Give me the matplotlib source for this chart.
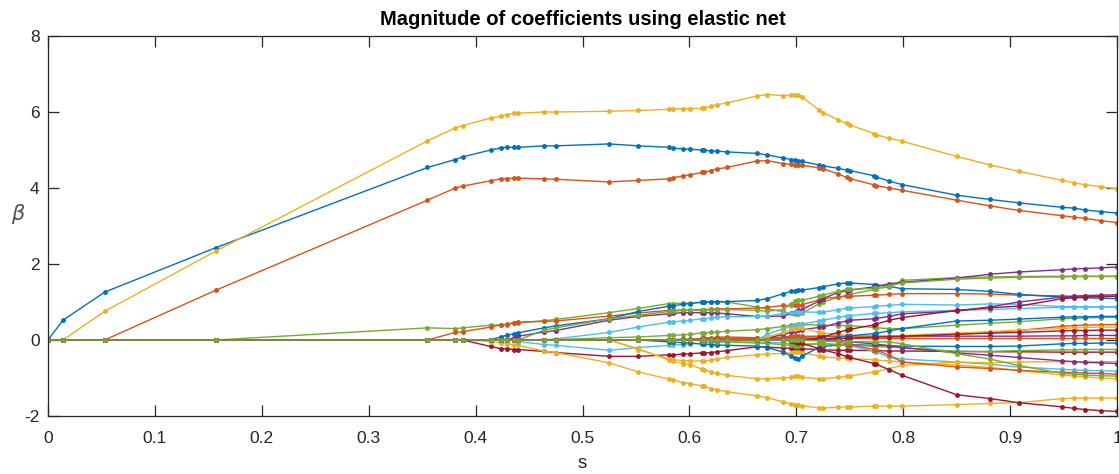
import matplotlib
matplotlib.use("Agg")
import matplotlib.pyplot as plt
import numpy as np

plt.rcParams['font.family'] = ['Liberation Sans', 'DejaVu Sans']

# knot positions along s
s_knots = [0, 0.014, 0.053, 0.157, 0.355, 0.381, 0.388, 0.414, 0.424, 0.429,
           0.436, 0.440, 0.464, 0.475, 0.525, 0.552, 0.581, 0.585, 0.594, 0.601,
           0.612, 0.614, 0.620, 0.626, 0.635, 0.663, 0.673, 0.688, 0.695, 0.699,
           0.702, 0.705, 0.721, 0.725, 0.739, 0.747, 0.750, 0.773, 0.775, 0.787,
           0.799, 0.850, 0.881, 0.908, 0.949, 0.960, 0.970, 0.985, 1.0]

Z4 = [0, 0, 0, 0]

beta_blue_big = [0, 0.52, 1.26, 2.43, 4.54, 4.75, 4.82, 5.00, 5.06, 5.07, 5.07, 5.07, 5.11, 5.11,
                 5.16, 5.11, 5.07, 5.05, 5.03, 5.02, 5.00, 4.99, 4.98, 4.97, 4.95,
                 4.91, 4.87, 4.79, 4.75, 4.74, 4.71, 4.70, 4.61, 4.58, 4.52, 4.47, 4.46,
                 4.32, 4.29, 4.18, 4.09, 3.81, 3.70, 3.61, 3.49, 3.47, 3.42, 3.38, 3.34]
beta_orange_big = [0, 0, 0, 1.31, 3.68, 4.00, 4.05, 4.19, 4.24, 4.25, 4.26, 4.26, 4.24, 4.23,
                   4.16, 4.20, 4.24, 4.27, 4.32, 4.35, 4.41, 4.42, 4.46, 4.50, 4.54,
                   4.71, 4.72, 4.64, 4.63, 4.61, 4.60, 4.60, 4.53, 4.51, 4.37, 4.28, 4.25,
                   4.08, 4.06, 4.00, 3.94, 3.68, 3.53, 3.41, 3.27, 3.23, 3.20, 3.14, 3.09]
beta_yellow_big = [0, 0, 0.755, 2.34, 5.24, 5.58, 5.64, 5.84, 5.89, 5.93, 5.97, 5.97, 6.00, 6.00,
                   6.02, 6.04, 6.07, 6.08, 6.09, 6.09, 6.10, 6.11, 6.15, 6.19, 6.24,
                   6.42, 6.46, 6.43, 6.45, 6.45, 6.44, 6.40, 6.06, 5.98, 5.80, 5.70, 5.66,
                   5.43, 5.40, 5.31, 5.23, 4.83, 4.61, 4.44, 4.20, 4.13, 4.09, 4.03, 3.98]

beta_purple_top = Z4 + [0, 0, 0, 0, 0, 0, 0.06, 0.10, 0.21, 0.25,
                        0.52, 0.62, 0.69, 0.70, 0.72, 0.72, 0.72, 0.72, 0.72, 0.71, 0.69,
                        0.62, 0.62, 0.63, 0.70, 0.75, 0.78, 0.80, 1.02, 1.09, 1.25, 1.30, 1.31,
                        1.40, 1.41, 1.48, 1.52, 1.63, 1.73, 1.79, 1.85, 1.87, 1.88, 1.90, 1.92]
beta_green_a = Z4 + [0.32, 0.30, 0.32, 0.39, 0.40, 0.40, 0.45, 0.45, 0.51, 0.54,
                     0.72, 0.83, 0.96, 0.96, 0.97, 0.97, 0.99, 0.99, 1.00, 1.00, 1.00,
                     0.87, 0.82, 0.74, 0.70, 0.68, 0.68, 0.70, 0.95, 1.00, 1.12, 1.18, 1.20,
                     1.33, 1.35, 1.40, 1.57, 1.64, 1.66, 1.67, 1.68, 1.68, 1.68, 1.68, 1.68]
beta_green_e = Z4 + [0, 0, 0, 0, 0, 0, 0, 0, 0.26, 0.32,
                     0.56, 0.65, 0.75, 0.76, 0.78, 0.78, 0.78, 0.79, 0.79, 0.79, 0.80,
                     0.78, 0.76, 0.80, 0.95, 1.02, 1.04, 1.04, 1.15, 1.18, 1.28, 1.33, 1.33,
                     1.36, 1.37, 1.42, 1.50, 1.60, 1.63, 1.65, 1.66, 1.67, 1.67, 1.67, 1.67]
beta_orange_b = Z4 + [0, 0.20, 0.22, 0.34, 0.40, 0.41, 0.46, 0.47, 0.49, 0.50,
                      0.63, 0.71, 0.78, 0.78, 0.79, 0.79, 0.80, 0.80, 0.81, 0.82, 0.82,
                      0.84, 0.86, 0.91, 0.91, 0.91, 0.92, 0.93, 1.05, 1.09, 1.13, 1.15, 1.15,
                      1.18, 1.18, 1.20, 1.22, 1.22, 1.21, 1.18, 1.16, 1.15, 1.15, 1.15, 1.15]
beta_blue_c = Z4 + [0, 0, 0, 0, 0.09, 0.12, 0.17, 0.19, 0.32, 0.37,
                    0.56, 0.75, 0.89, 0.90, 0.94, 0.96, 1.00, 1.00, 1.00, 1.01, 1.01,
                    1.04, 1.09, 1.22, 1.28, 1.30, 1.31, 1.31, 1.38, 1.40, 1.48, 1.50, 1.50,
                    1.46, 1.45, 1.41, 1.35, 1.33, 1.28, 1.20, 1.13, 1.12, 1.11, 1.10, 1.09]
beta_cyan_up = Z4 + [0, 0, 0, 0, 0, 0, 0, 0, 0, 0.03,
                     0.20, 0.34, 0.47, 0.48, 0.50, 0.52, 0.56, 0.56, 0.58, 0.60, 0.61,
                     0.62, 0.63, 0.70, 0.72, 0.74, 0.74, 0.74, 0.73, 0.73, 0.80, 0.83, 0.84,
                     0.88, 0.89, 0.91, 0.94, 0.92, 0.95, 0.94, 0.88, 0.88, 0.87, 0.87, 0.87]
beta_cyan_2 = Z4 + [0, 0, 0, 0, 0, 0, 0, 0, 0, 0,
                    0, 0, 0, 0, 0, 0, 0, 0, 0, 0, 0,
                    0, 0.15, 0.30, 0.35, 0.38, 0.40, 0.42, 0.50, 0.52, 0.60, 0.63, 0.64,
                    0.70, 0.70, 0.72, 0.74, 0.78, 0.80, 0.83, 0.86, 0.86, 0.87, 0.87, 0.87]
beta_purple_mid = Z4 + [0, 0, 0, 0, 0, 0, 0, 0, 0, 0,
                        0, 0, 0, 0, 0, 0, 0, 0, 0, 0, 0,
                        0, 0.05, 0.15, 0.20, 0.24, 0.26, 0.27, 0.33, 0.34, 0.45, 0.50, 0.52,
                        0.56, 0.57, 0.62, 0.69, 0.76, 0.87, 1.00, 1.13, 1.15, 1.17, 1.18, 1.19]
beta_red_up = Z4 + [0, 0, 0, 0, 0, 0, 0, 0, 0, 0,
                    0, 0, 0, 0, 0, 0, 0, 0, 0, 0, 0,
                    0, 0, 0, 0, 0, 0, 0, 0.05, 0.08, 0.20, 0.26, 0.28,
                    0.40, 0.42, 0.52, 0.59, 0.78, 0.85, 0.89, 1.09, 1.11, 1.13, 1.14, 1.15]
beta_blue_mid = Z4 + [0, 0, 0, 0, 0, 0, 0, 0, 0, 0,
                      0, 0, 0, 0, 0, 0, 0, 0, 0, 0, 0,
                      0, 0, 0, 0, 0, 0, 0, 0, 0.02, 0.07, 0.10, 0.11,
                      0.17, 0.18, 0.24, 0.30, 0.50, 0.52, 0.55, 0.60, 0.61, 0.61, 0.62, 0.62]
beta_green_mid = Z4 + [0, 0, 0, 0, 0, 0, 0, 0, 0, 0.01,
                       0.06, 0.08, 0.12, 0.12, 0.14, 0.15, 0.19, 0.19, 0.20, 0.21, 0.23,
                       0.27, 0.30, 0.36, 0.39, 0.40, 0.41, 0.41, 0.39, 0.39, 0.38, 0.38, 0.38,
                       0.33, 0.32, 0.30, 0.30, 0.39, 0.44, 0.48, 0.56, 0.57, 0.58, 0.59, 0.60]
beta_orange_mid = Z4 + [0, 0, 0, 0, 0, 0, 0, 0, 0, 0,
                        0, 0, 0, 0, 0, 0, 0.04, 0.05, 0.06, 0.07, 0.08,
                        0.06, 0.05, 0.08, 0.10, 0.10, 0.10, 0.10, 0.10, 0.10, 0.10, 0.10, 0.10,
                        0.09, 0.09, 0.08, 0.08, 0.15, 0.20, 0.25, 0.36, 0.38, 0.39, 0.40, 0.41]
beta_yellow_up = Z4 + [0, 0, 0, 0, 0, 0, 0, 0, 0, 0,
                       0, 0, 0, 0, 0, 0, 0, 0, 0, 0, 0,
                       0, 0.08, 0.20, 0.28, 0.30, 0.32, 0.32, 0.20, 0.18, 0.15, 0.12, 0.12,
                       0.10, 0.10, 0.10, 0.12, 0.18, 0.22, 0.26, 0.30, 0.32, 0.33, 0.34, 0.34]
beta_red_low = Z4 + [0, 0, 0, 0, 0, 0, 0, 0, 0, 0,
                     0, 0, 0, 0, 0, 0, 0, 0, 0, 0, 0,
                     0, 0, 0, 0, 0, 0, 0, 0, 0.01, 0.03, 0.05, 0.05,
                     0.08, 0.08, 0.09, 0.10, 0.15, 0.18, 0.20, 0.24, 0.25, 0.25, 0.26, 0.26]
beta_purple_low = Z4 + [0, 0, 0, 0, 0, 0, 0, 0, 0, 0,
                        0, 0, 0, 0.01, 0.02, 0.02, 0.03, 0.03, 0.03, 0.04, 0.04,
                        0.04, 0.05, 0.06, 0.07, 0.08, 0.08, 0.08, 0.09, 0.09, 0.10, 0.10, 0.10,
                        0.10, 0.10, 0.10, 0.10, 0.10, 0.10, 0.10, 0.11, 0.11, 0.12, 0.12, 0.12]
beta_orange_flat = Z4 + [0, 0, 0, 0, 0, 0, 0, 0, 0, 0,
                         0, 0, 0, 0, 0, 0.01, 0.02, 0.02, 0.02, 0.03, 0.03,
                         0.04, 0.04, 0.05, 0.05, 0.05, 0.05, 0.05, 0.04, 0.04, 0.04, 0.04, 0.04,
                         0.04, 0.04, 0.04, 0.04, 0.04, 0.04, 0.04, 0.04, 0.04, 0.04, 0.04, 0.04]
beta_blue_neg = Z4 + [0, 0, 0, 0, 0, 0, 0, 0, 0, 0,
                      0, 0, -0.05, -0.06, -0.07, -0.08, -0.11, -0.11, -0.12, -0.13, -0.14,
                      -0.16, -0.20, -0.32, -0.42, -0.47, -0.49, -0.43, -0.20, -0.17, -0.13, -0.12, -0.12,
                      -0.14, -0.14, -0.15, -0.16, -0.17, -0.17, -0.16, -0.10, -0.09, -0.09, -0.08, -0.08]
beta_green_neg = Z4 + [0, 0, 0, 0, 0, 0, 0, 0, 0, 0,
                       0, 0, 0, 0, 0, 0, -0.02, -0.02, -0.03, -0.04, -0.05,
                       -0.08, -0.09, -0.12, -0.14, -0.15, -0.15, -0.14, -0.10, -0.10, -0.12, -0.13, -0.13,
                       -0.17, -0.17, -0.19, -0.20, -0.30, -0.30, -0.28, -0.26, -0.26, -0.25, -0.25, -0.25]
beta_red_neg = Z4 + [0, 0, 0, -0.17, -0.23, -0.23, -0.25, -0.25, -0.30, -0.33,
                     -0.43, -0.43, -0.39, -0.39, -0.37, -0.36, -0.34, -0.34, -0.33, -0.31, -0.28,
                     -0.18, -0.19, -0.21, -0.22, -0.23, -0.23, -0.23, -0.25, -0.26, -0.27, -0.27, -0.27,
                     -0.28, -0.28, -0.29, -0.29, -0.30, -0.31, -0.31, -0.32, -0.32, -0.32, -0.32, -0.32]
beta_red_steep = Z4 + [0, 0, 0, 0, 0, 0, 0, 0, 0, 0,
                       0, 0, 0, 0, 0, 0, 0, 0, 0, 0, 0,
                       0, 0, 0, -0.03, -0.05, -0.07, -0.09, -0.22, -0.26, -0.36, -0.43, -0.46,
                       -0.62, -0.64, -0.78, -0.93, -1.44, -1.54, -1.65, -1.76, -1.80, -1.83, -1.86, -1.88]
beta_purple_neg = Z4 + [0, 0, 0, 0, 0, 0, 0, 0, 0, 0,
                        0, 0, 0, 0, 0, 0, 0, 0, 0, 0, 0,
                        0, 0, 0, 0, 0, 0, 0, 0, 0, 0, -0.03, -0.05,
                        -0.10, -0.11, -0.15, -0.20, -0.34, -0.40, -0.46, -0.55, -0.57, -0.59, -0.60, -0.62]
beta_cyan_neg = Z4 + [0, 0, 0, 0, 0, 0, 0, -0.04, -0.12, -0.14,
                      -0.27, -0.20, -0.14, -0.13, -0.12, -0.10, -0.08, -0.08, -0.07, -0.06, -0.05,
                      -0.05, -0.06, -0.08, -0.10, -0.10, -0.10, -0.10, -0.10, -0.10, -0.12, -0.14, -0.15,
                      -0.30, -0.32, -0.45, -0.50, -0.58, -0.64, -0.71, -0.77, -0.79, -0.80, -0.81, -0.82]
beta_green_low = Z4 + [0, 0, 0, 0, 0, 0, 0, 0, 0, 0,
                       0, 0, 0, 0, 0, 0, 0, 0, 0, 0, 0,
                       0, 0, 0, 0, 0, 0, -0.01, -0.02, -0.03, -0.03, -0.04, -0.04,
                       -0.05, -0.05, -0.05, -0.10, -0.36, -0.50, -0.67, -0.88, -0.90, -0.92, -0.94, -0.95]
beta_orange_neg = Z4 + [0, 0, 0, 0, 0, 0, 0, 0, 0, 0,
                        0, 0, 0, 0, 0, 0, 0, 0, 0, 0, 0,
                        0, 0, 0, 0, 0, 0, 0, 0, 0, -0.05, -0.10, -0.12,
                        -0.25, -0.27, -0.40, -0.58, -0.71, -0.75, -0.80, -0.85, -0.86, -0.87, -0.88, -0.90]
beta_yellow_a = Z4 + [0, 0, 0, 0, 0, 0, 0, 0, 0, 0,
                      0, -0.25, -0.50, -0.52, -0.54, -0.55, -0.55, -0.55, -0.53, -0.50, -0.46,
                      -0.39, -0.37, -0.35, -0.33, -0.32, -0.32, -0.33, -0.42, -0.45, -0.47, -0.48, -0.49,
                      -0.52, -0.53, -0.55, -0.58, -0.66, -0.72, -0.80, -0.92, -0.95, -0.97, -1.00, -1.02]
beta_yellow_b = Z4 + [0, 0, 0, 0, 0, 0, 0, 0, 0, 0,
                      0, -0.23, -0.53, -0.56, -0.62, -0.65, -0.77, -0.78, -0.84, -0.88, -0.93,
                      -1.02, -1.02, -1.00, -0.98, -0.96, -0.96, -0.98, -1.02, -1.02, -0.98, -0.96, -0.95,
                      -0.84, -0.83, -0.75, -0.67, -0.58, -0.60, -0.58, -0.57, -0.57, -0.57, -0.57, -0.57]
beta_yellow_deep = Z4 + [0, 0, 0, -0.04, -0.08, -0.10, -0.12, -0.14, -0.29, -0.33,
                         -0.60, -0.84, -1.03, -1.05, -1.12, -1.15, -1.21, -1.22, -1.28, -1.31, -1.36,
                         -1.47, -1.52, -1.63, -1.68, -1.71, -1.72, -1.73, -1.79, -1.79, -1.77, -1.76, -1.76,
                         -1.74, -1.74, -1.74, -1.74, -1.70, -1.67, -1.65, -1.54, -1.53, -1.53, -1.53, -1.53]

# MATLAB default colour order
c_blue, c_orange, c_yellow = '#0072BD', '#D95319', '#EDB120'
c_purple, c_green, c_cyan, c_red = '#7E2F8E', '#77AC30', '#4DBEEE', '#A2142F'

paths = [
    (beta_blue_big, c_blue), (beta_orange_big, c_orange), (beta_yellow_big, c_yellow),
    (beta_green_a, c_green), (beta_orange_b, c_orange), (beta_red_neg, c_red),
    (beta_yellow_deep, c_yellow), (beta_blue_c, c_blue), (beta_purple_top, c_purple),
    (beta_cyan_neg, c_cyan), (beta_green_e, c_green), (beta_cyan_up, c_cyan),
    (beta_green_mid, c_green), (beta_yellow_a, c_yellow), (beta_yellow_b, c_yellow),
    (beta_blue_neg, c_blue), (beta_purple_low, c_purple), (beta_orange_flat, c_orange),
    (beta_orange_mid, c_orange), (beta_green_neg, c_green), (beta_cyan_2, c_cyan),
    (beta_purple_mid, c_purple), (beta_yellow_up, c_yellow), (beta_red_steep, c_red),
    (beta_red_up, c_red), (beta_blue_mid, c_blue), (beta_orange_neg, c_orange),
    (beta_red_low, c_red), (beta_purple_neg, c_purple), (beta_green_low, c_green),
]

title_text = 'Magnitude of coefficients using elastic net'
x_ticks = [0, 0.1, 0.2, 0.3, 0.4, 0.5, 0.6, 0.7, 0.8, 0.9, 1]
x_ticklabels = ['0', '0.1', '0.2', '0.3', '0.4', '0.5', '0.6', '0.7', '0.8', '0.9', '1']
y_ticks = [-2, 0, 2, 4, 6, 8]
y_ticklabels = ['-2', '0', '2', '4', '6', '8']

fig = plt.figure(figsize=(11.19, 4.74), dpi=100)
ax = fig.add_axes([48 / 1119, 58 / 474, 1069 / 1119, 380 / 474])

for vals, col in paths:
    ax.plot(s_knots, vals, '.-', color=col, lw=1.0, ms=5)

ax.set_xlim(0, 1)
ax.set_ylim(-2, 8)
ax.set_xticks(x_ticks)
ax.set_xticklabels(x_ticklabels)
ax.set_yticks(y_ticks)
ax.set_yticklabels(y_ticklabels)

axcol = '#262626'
for sp in ax.spines.values():
    sp.set_color(axcol)
    sp.set_linewidth(0.9)
ax.tick_params(direction='in', length=8, width=0.9, colors=axcol,
               top=True, right=True, labelsize=12.5)
ax.tick_params(axis='x', pad=11)
ax.tick_params(axis='y', pad=6)

ax.set_title(title_text, fontsize=14.5, fontweight='bold', color='black', pad=8)
ax.set_xlabel('s', fontsize=13.5, color=axcol, labelpad=6)
ax.set_ylabel(r'$\beta$', fontsize=15, color='#555555', rotation=0)
ax.yaxis.set_label_coords(-0.028, 0.50)

fig.savefig('out.png', dpi=100)
